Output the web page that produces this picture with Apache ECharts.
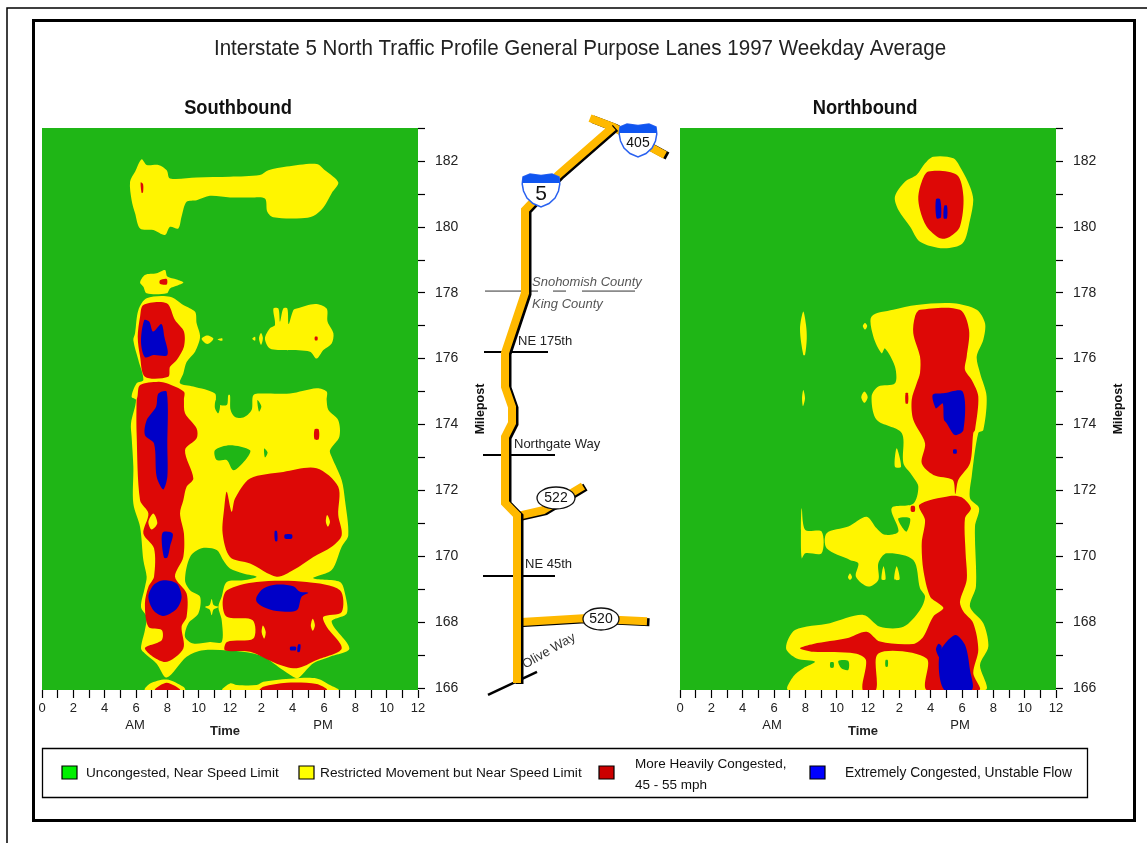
<!DOCTYPE html>
<html><head><meta charset="utf-8">
<style>html,body{margin:0;padding:0;background:#fff}#c{width:1147px;height:843px}</style>
<script src="https://cdn.jsdelivr.net/npm/echarts@6/dist/echarts.min.js"></script>
</head><body><div id="c"></div>
<script>
// Contours: each polygon is a list of [hour of day (0-24), milepost]
const sbYellow = [
 [[6.36,182.05],[6.68,181.88],[7.43,181.88],[7.96,181.72],[8.17,181.47],[9.87,181.5],[12,181.52],[13.91,181.57],[14.45,181.72],[15.62,181.83],[17.53,181.91],[18.06,181.72],[18.91,181.35],[18.49,181.02],[17.96,180.59],[17.32,180.33],[16.57,180.26],[14.77,180.29],[14.38,180.46],[14.23,180.86],[13.28,180.89],[12,180.89],[10.72,180.94],[9.87,180.81],[9.23,180.76],[8.91,180.31],[8.7,179.95],[8.17,180],[7.85,179.75],[7.11,179.9],[6.26,179.95],[5.94,180.41],[5.72,180.81],[5.62,181.37],[5.94,181.67]],
 [[7.85,178.69],[8,178.49],[8.6,178.4],[9.02,178.31],[8.6,178.21],[8.17,178.13],[7.96,177.98],[6.68,177.98],[6.47,178.18],[6.26,178.31],[6.57,178.54],[7.32,178.59]],
 [[6.68,177.83],[8.17,177.88],[9.02,177.63],[9.77,177.42],[9.87,177.07],[10.09,176.66],[9.77,176.21],[9.23,175.9],[9.02,175.55],[8.81,175.25],[9.66,175.15],[11.04,174.94],[11.15,174.64],[11.79,174.59],[11.89,174.89],[12,174.89],[12.04,174.44],[12.32,174.23],[12.85,174.21],[13.38,174.44],[13.49,174.89],[14.13,174.94],[15.83,174.94],[17.53,175.1],[18.17,175],[18.17,174.74],[18.28,174.44],[18.91,174.13],[18.98,173.63],[18.38,173.22],[18.49,173.02],[19.13,172.31],[19.34,171.7],[19.55,170.64],[19.13,170.29],[18.49,169.58],[17.32,169.33],[19.02,169.22],[19.34,168.87],[19.45,168.26],[18.49,168.01],[19.62,167.2],[18.38,166.95],[17.32,166.75],[16.47,166.34],[16.26,166.29],[15.4,166.54],[14.13,166.95],[12.85,167.1],[10.3,167.15],[9.23,166.95],[7.96,166.32],[7.32,166.74],[6.57,167.05],[6.32,167.2],[6.57,167.76],[6.68,168.16],[6.32,168.46],[6.57,169.07],[6.68,169.38],[6.47,169.88],[6.26,170.89],[5.83,171.6],[5.83,172.72],[5.72,173.63],[5.68,174.03],[6,174.74],[5.72,174.84],[6.04,175.25],[6.47,175.35],[6.15,175.96],[5.83,176.56],[5.94,176.77],[6.15,177.47]],
 [[6.57,165.94],[6.9,166.14],[7.96,166.26],[9.02,166.04],[9.13,165.94]],
 [[11.53,165.94],[12,166.14],[12.43,166.09],[13.7,166.09],[14.13,166.19],[16.04,166.29],[17.53,166.29],[18.38,166.09],[18.91,165.94]],
 [[10.19,176.6],[10.55,176.7],[10.94,176.6],[10.55,176.44]],
 [[11.2,176.58],[11.5,176.62],[11.5,176.54]],
 [[13.42,176.6],[13.6,176.66],[13.6,176.54]],
 [[13.85,176.62],[13.98,176.78],[14.1,176.62],[13.98,176.42]],
 [[14.77,177.52],[15.09,177.52],[15.19,177.12],[15.4,177.52],[15.66,177.52],[15.74,177.05],[16.04,177.47],[16.26,177.52],[17.43,177.66],[18.17,177.52],[18.23,177.12],[18.6,176.77],[18.49,176.46],[17.96,176.26],[17.53,176],[17.11,176.21],[15.62,176.26],[14.55,176.31],[14.23,176.61],[14.55,176.92],[14.87,177.02]]
];
const sbGreen = [
 [[10.19,170.24],[11.15,170.19],[11.57,169.88],[12,169.63],[12.85,169.48],[13.7,169.38],[12.85,169.27],[11.79,169.22],[11.47,168.77],[11.26,168.46],[11.47,168.06],[11.47,167.4],[10.72,167.4],[9.66,167.35],[9.13,167.55],[9.34,167.96],[9.98,168.26],[10.09,168.77],[9.45,168.97],[9.13,169.27],[9.45,169.98]],
 [[11.04,173.22],[12,173.37],[13.28,173.22],[13.06,172.97],[12.22,172.61],[11.79,172.92],[11.15,172.92]],
 [[11.1,174.74],[11.36,174.6],[11.25,174.34],[11.04,174.5]],
 [[13.75,174.74],[14,174.55],[13.85,174.39]],
 [[14.18,173.27],[14.4,173.15],[14.23,173.0]]
];
const sbYellowIslands = [
 [[10.83,168.7],[10.95,168.52],[11.26,168.46],[10.95,168.38],[10.83,168.21],[10.7,168.38],[10.41,168.46],[10.7,168.52]]
];
const sbRed = [
 [[6.3,181.35],[6.45,181.3],[6.45,181.05],[6.36,181.03]],
 [[7.53,178.38],[7.96,178.42],[7.96,178.25],[7.53,178.27]],
 [[17.42,176.66],[17.58,176.66],[17.58,176.56],[17.42,176.56]],
 [[17.4,173.85],[17.66,173.85],[17.66,173.55],[17.4,173.55]],
 [[6.47,177.63],[7.96,177.68],[8.49,177.17],[9.06,176.82],[9.06,176.36],[8.6,175.96],[8.17,175.75],[8.06,175.45],[6.57,175.45],[6.26,176.06],[6.11,176.66],[6.26,177.27]],
 [[6.26,175.2],[7.43,175.3],[7.96,175.25],[9.06,174.99],[9.06,174.74],[9.13,174.34],[9.87,173.88],[9.87,173.58],[9.13,173.22],[9.66,172.36],[9.23,172.11],[9.02,171.7],[8.81,171.3],[9.06,170.69],[9.02,169.98],[8.49,169.38],[9.23,168.87],[9.23,168.16],[8.91,167.86],[9.02,167.2],[7.85,166.79],[6.57,167.2],[7.64,167.45],[7.64,167.76],[6.79,167.86],[6.57,168.57],[6.79,169.07],[7.15,169.38],[7.15,170.24],[6.47,170.69],[6.79,171.3],[6.26,171.7],[6.04,173.73],[6.04,174.74],[6.09,174.84]],
 [[11.79,171.96],[12.11,171.35],[12.32,171.75],[13.28,172.36],[15.4,172.56],[17.53,172.67],[18.91,172.11],[18.91,171.25],[19.13,170.64],[18.49,170.29],[17.32,169.98],[16.04,169.58],[14.98,169.38],[13.28,169.78],[12,169.98],[11.53,170.69],[11.64,171.5]],
 [[11.81,168.97],[13.7,169.22],[16.89,169.22],[19.02,168.97],[19.13,168.31],[17.96,168.16],[18.17,167.86],[19.13,167.2],[17.53,166.85],[16.26,166.6],[14.98,166.74],[13.28,167.1],[11.68,167.15],[11.81,167.4],[13.49,167.5],[13.45,168.06],[11.79,168.16],[11.53,168.57]],
 [[7.21,165.94],[7.96,166.16],[8.81,165.94]],
 [[13.91,165.94],[14.13,166.04],[15.62,166.16],[17.53,166.12],[18.17,165.94]]
];
const sbRedHoles = [
 [[7.11,171.3],[7.36,171],[7,170.81],[6.79,171.05]],
 [[18.2,171.25],[18.38,171.05],[18.25,170.9],[18.12,171.05]],
 [[14.1,167.9],[14.28,167.7],[14.18,167.5],[14.02,167.7]],
 [[17.28,168.1],[17.42,167.9],[17.28,167.74],[17.16,167.9]]
];
const sbBlue = [
 [[6.53,177.17],[6.85,177.12],[7.09,176.82],[7.62,177.05],[7.81,176.66],[8,176.11],[7.11,176.11],[6.57,176.04],[6.32,176.51]],
 [[7.43,174.94],[7.96,174.99],[8,173.32],[8,172.41],[7.74,172.03],[7.32,172.41],[7.15,173.42],[6.57,173.68],[6.68,174.13],[7.28,174.54]],
 [[7.74,170.74],[8.34,170.69],[8.17,170.29],[8,169.96],[7.79,169.96],[7.64,170.49]],
 [[7.74,169.27],[8.6,169.17],[8.91,168.77],[8.6,168.41],[7.74,168.19],[7.11,168.36],[6.79,168.77],[7.11,169.12]],
 [[13.7,168.77],[14.13,169.02],[14.98,169.14],[16.04,169.09],[16.47,168.92],[17,168.89],[16.57,168.77],[16.26,168.36],[14.98,168.34],[14.13,168.46],[13.7,168.62]],
 [[14.85,170.76],[15,170.76],[15.02,170.46],[14.88,170.46]],
 [[15.5,170.66],[15.95,170.66],[15.95,170.54],[15.5,170.54]],
 [[15.85,167.25],[16.2,167.25],[16.2,167.15],[15.85,167.15]],
 [[16.35,167.32],[16.5,167.32],[16.45,167.1],[16.3,167.1]]
];

const nbYellow = [
 [[16.17,182.13],[17.45,182.08],[17.98,181.73],[18.51,181.22],[18.72,180.82],[18.51,180.21],[18.04,179.5],[16.81,179.35],[15.32,179.55],[14.68,180.01],[13.94,180.51],[13.72,180.92],[14.36,181.37],[15.11,181.58],[15.64,181.93]],
 [[7.87,177.43],[8.05,177],[8.09,176.6],[7.98,176.11],[7.87,176.11],[7.66,176.9]],
 [[7.87,175.05],[7.98,174.8],[7.85,174.56],[7.79,174.8]],
 [[11.81,177.08],[11.95,176.99],[11.81,176.88],[11.67,176.99]],
 [[11.77,175],[11.98,174.83],[11.77,174.66],[11.57,174.83]],
 [[7.77,171.46],[8,170.8],[9.04,170.75],[9.04,170.09],[8,170.09],[7.77,169.94],[7.72,170.8]],
 [[15.11,177.63],[17.45,177.68],[18.94,177.48],[19.47,177.07],[19.36,176.57],[18.94,176.06],[19.15,175.56],[19.57,174.85],[19.36,173.83],[19.04,173.74],[18.62,172.42],[18.51,171.76],[19.09,171.46],[18.83,170.9],[18.89,169.08],[18.51,168.47],[19.36,167.97],[19.68,167.26],[19.15,166.7],[19.47,165.94],[6.91,165.94],[7.23,166.35],[7.87,166.6],[8.62,166.8],[7.45,166.9],[6.77,167.21],[7.34,167.76],[9.57,167.97],[11.7,168.22],[12.77,167.86],[14.26,167.86],[15.32,168.37],[15.64,168.78],[15.32,169.03],[14.89,169.89],[13.19,170.09],[12.66,169.79],[12.66,169.28],[12.02,169.08],[11.23,169.38],[11.38,169.79],[10.85,169.89],[9.36,170.24],[9.36,170.7],[10.74,170.9],[11.91,171.2],[12.55,170.85],[13.09,170.65],[13.94,170.75],[13.51,171.46],[14.89,171.59],[15.21,172.12],[14.79,172.47],[14.26,172.82],[14.15,173.74],[12.55,174.14],[12.23,174.85],[12.66,175.15],[13.72,175.25],[13.72,175.76],[13.09,176.31],[12.87,176.16],[12.34,176.67],[12.23,177.28],[13.6,177.48]],
 [[13.83,173.28],[14.11,172.72],[13.72,172.72]],
 [[13.83,169.7],[14.02,169.3],[13.68,169.3]],
 [[10.85,169.48],[10.98,169.36],[10.85,169.28],[10.72,169.36]],
 [[12.99,169.7],[13.12,169.3],[12.86,169.3]]
];
const nbGreen = [
 [[13.94,171.15],[14.68,171.15],[14.47,170.75],[14.15,170.9]],
 [[10.11,166.82],[10.74,166.82],[10.74,166.55],[10.3,166.6]],
 [[9.6,166.78],[9.8,166.78],[9.8,166.62],[9.6,166.62]],
 [[13.12,166.85],[13.26,166.85],[13.26,166.65],[13.12,166.65]]
];
const nbRed = [
 [[15.85,181.68],[17.66,181.58],[18.09,180.92],[17.87,180.01],[17.23,179.7],[16.6,179.65],[15.74,180.01],[15.32,180.51],[15.21,180.92],[15.43,181.37]],
 [[15.32,177.48],[17.87,177.48],[18.45,176.87],[18.3,176.06],[18.19,175.66],[18.62,175.35],[19.04,174.85],[18.83,173.83],[18.72,173.74],[18.51,172.82],[17.77,172.32],[17.57,171.89],[17.4,172.32],[16.17,172.47],[15.43,172.82],[15.64,173.43],[14.89,174.14],[14.79,174.75],[15.11,175.25],[15.32,175.56],[15.32,176.06],[14.89,176.77],[15,177.28]],
 [[15.28,171.56],[17.23,171.83],[17.98,171.79],[18.57,171.46],[18.19,171.15],[18.23,170.09],[18.3,169.28],[17.87,168.62],[18.09,168.32],[18.72,167.97],[19.04,167.16],[18.72,166.45],[19.11,165.94],[15.74,165.94],[15.74,166.9],[12.66,167.05],[12.51,165.94],[11.66,165.94],[11.87,166.85],[11.17,167.05],[8.51,167.1],[7.66,167.21],[8.51,167.34],[10.64,167.51],[11.91,167.71],[12.77,167.41],[14.89,167.34],[15.53,167.56],[16.17,168.17],[16.81,168.42],[16.49,168.57],[15.96,168.78],[15.53,169.59],[15.43,170.4],[15.64,171.1]],
 [[14.4,174.95],[14.55,174.95],[14.55,174.64],[14.4,174.64]],
 [[14.75,171.52],[14.98,171.52],[14.98,171.36],[14.75,171.36]]
];
const nbBlue = [
 [[16.34,180.84],[16.6,180.84],[16.66,180.29],[16.38,180.26]],
 [[16.87,180.64],[17.04,180.64],[17.04,180.26],[16.83,180.26]],
 [[16.13,174.9],[16.81,174.95],[18.04,175],[18.09,173.83],[17.55,173.68],[17.02,174.04],[16.85,174.14],[16.77,174.64],[16.49,174.54],[16.32,174.49]],
 [[17.45,173.24],[17.65,173.24],[17.65,173.12],[17.45,173.12]],
 [[16.57,167.05],[17.55,167.61],[18.19,167.31],[18.51,166.55],[18.62,165.94],[16.87,165.94]],
 [[16.34,167.16],[16.49,167.34],[16.7,167.26],[16.6,166.9]]
];

// Hand-drawn route map, along the same milepost scale (x = eastward offset)
const i5Route = [[173,183.03],[118,181.57],[85,180.51],[85,177.99],[65,176.17],[65,175.14],[72,174.53],[72,174.04],[65,173.62],[65,171.62],[77,171.25],[77,166.15]];
const sr522 = [[77,171.22],[103,171.4],[143,172.13]];
const sr520 = [[77,168],[143,168.12],[207,168.03]];
const i405 = [[150,183.3],[173,183.03],[225,182.18]];
const countyLine = [[45,178.05],[98,178.05],'-',[113,178.05],[126,178.05],'-',[142,178.05],[195,178.05]];
const ne175 = [[44,176.2],[108,176.2]];
const northgate = [[43,173.07],[115,173.07]];
const ne45 = [[43,169.4],[115,169.4]];
const oliveWay = [[48,165.79],[97,166.49]];

const xTickLabels = ['0','2','4','6','8','10','12','2','4','6','8','10','12'];
const yTicks = [166,167,168,169,170,171,172,173,174,175,176,177,178,179,180,181,182,183];
const yLabels = [166,168,170,172,174,176,178,180,182];
const legendItems = ['Uncongested, Near Speed Limit','Restricted Movement but Near Speed Limit','More Heavily Congested,\n45 - 55 mph','Extremely Congested, Unstable Flow'];

const GREEN='#1FB616', YELLOW='#FFF500', RED='#DD0806', BLUE='#0000C8', ROAD='#FFB900';
const FONT='"Liberation Sans", Arial, sans-serif';

function polySeries(name, idx, color, polys){
  return {type:'custom', name, xAxisIndex:idx, yAxisIndex:idx, clip:true, silent:true,
    data:polys.map(p=>p[0]), encode:{x:0,y:1},
    renderItem(params, api){
      return {type:'polygon', shape:{points:polys[params.dataIndex].map(q=>api.coord(q)), smooth:0.3}, style:{fill:color}};
    }};
}
function road(name, data, order){
  return {type:'line', name, xAxisIndex:2, yAxisIndex:2, data, symbol:'none', silent:true, clip:false, z:3+order,
    lineStyle:{color:ROAD, width:8, cap:'butt', join:'miter', shadowColor:'#000', shadowBlur:0, shadowOffsetX:2.5, shadowOffsetY:1}};
}
function xline(name, data, w, color){
  return {type:'line', name, xAxisIndex:2, yAxisIndex:2, data, symbol:'none', silent:true, clip:false, z:2, connectNulls:false,
    lineStyle:{color:color||'#000', width:w, cap:'butt'}};
}
function timeAxis(gridIndex){
  return {type:'value', gridIndex, min:0, max:24, interval:1, name:'Time', nameLocation:'middle', nameGap:35,
    nameTextStyle:{fontFamily:FONT, fontWeight:'bold', fontSize:13, color:'#222', padding:[0,10,0,0]},
    axisLine:{show:false, onZero:false}, splitLine:{show:false},
    axisTick:{show:true, length:8, lineStyle:{color:'#000', width:1.2}},
    axisLabel:{show:true, fontFamily:FONT, fontSize:13, color:'#222', margin:12, showMinLabel:true, showMaxLabel:true,
      formatter:v=>v%2===0?xTickLabels[v/2]:''}};
}
function mileAxis(gridIndex){
  return {type:'value', gridIndex, position:'right', min:165.94, max:183, name:'Milepost', nameLocation:'middle', nameGap:56, nameRotate:90,
    nameTextStyle:{fontFamily:FONT, fontWeight:'bold', fontSize:12.5, color:'#111'},
    axisLine:{show:false, onZero:false}, splitLine:{show:false},
    axisTick:{show:true, length:7, customValues:yTicks, lineStyle:{color:'#000', width:1.2}},
    axisLabel:{show:true, fontFamily:FONT, fontSize:14, color:'#222', margin:17, customValues:yLabels}};
}
function txt(x,y,text,o,scaleX){
  return {type:'text', x, y, z:20, scaleX:scaleX||1, style:Object.assign({text, fill:'#222', font:'13px '+FONT, textVerticalAlign:'middle'}, o||{})};
}
const shieldBody=[[-18,-12],[-11,-15],[0,-13.5],[11,-15],[18,-12],[18.8,-5],[17.5,2],[14,9],[8,14.5],[0,18],[-8,14.5],[-14,9],[-17.5,2],[-18.8,-5]];
const shieldTop=[[-18,-12],[-11,-15],[0,-13.5],[11,-15],[18,-12],[18.8,-6],[-18.8,-6]];
function shield(x,y){
  return [
   {type:'polygon', x, y, z:12, shape:{points:shieldBody}, style:{fill:'#fff', stroke:'#2A62F0', lineWidth:1.5}},
   {type:'polygon', x, y, z:13, shape:{points:shieldTop}, style:{fill:'#0F55F0'}}
  ];
}
function oval(cx,cy,rx,ry){
  return {type:'ellipse', z:12, shape:{cx,cy,rx,ry}, style:{fill:'#fff', stroke:'#111', lineWidth:1.3}};
}
function swatch(x,color){
  return {type:'rect', z:20, shape:{x,y:766,width:15,height:13}, style:{fill:color, stroke:'#000', lineWidth:1.2}};
}
const graphic = [
  {type:'rect', z:0, shape:{x:7,y:8,width:1300,height:1000}, style:{fill:'none', stroke:'#000', lineWidth:1.5}},
  {type:'rect', z:0, shape:{x:33.5,y:20.5,width:1101,height:800}, style:{fill:'none', stroke:'#000', lineWidth:3}},
  {type:'rect', z:0, shape:{x:42.5,y:748.5,width:1045,height:49}, style:{fill:'none', stroke:'#000', lineWidth:1.3}},
  txt(580,49,'Interstate 5 North Traffic Profile General Purpose Lanes 1997 Weekday Average',{font:'22px '+FONT, fill:'#222', textAlign:'center'},0.935),
  txt(238,108,'Southbound',{font:'bold 20px '+FONT, fill:'#111', textAlign:'center'},0.915),
  txt(865,108,'Northbound',{font:'bold 20px '+FONT, fill:'#111', textAlign:'center'},0.915),
  txt(135,725,'AM',{textAlign:'center'}), txt(323,725,'PM',{textAlign:'center'}),
  txt(772,725,'AM',{textAlign:'center'}), txt(960,725,'PM',{textAlign:'center'}),
  ...shield(541,189), ...shield(638,139),
  txt(541,194,'5',{font:'21px '+FONT, fill:'#111', textAlign:'center'}),
  txt(638,143,'405',{font:'14px '+FONT, fill:'#111', textAlign:'center'}),
  oval(556,498,19,11), oval(601,619,18,11),
  txt(556,498,'522',{font:'14px '+FONT, fill:'#111', textAlign:'center'}),
  txt(601,619,'520',{font:'14px '+FONT, fill:'#111', textAlign:'center'}),
  txt(532,282,'Snohomish County',{font:'italic 13px '+FONT, fill:'#555'}),
  txt(532,304,'King County',{font:'italic 13px '+FONT, fill:'#555'}),
  txt(518,341,'NE 175th',{font:'13px '+FONT, fill:'#222'}),
  txt(514,444,'Northgate Way',{font:'13px '+FONT, fill:'#222'}),
  txt(525,564,'NE 45th',{font:'13px '+FONT, fill:'#222'}),
  {type:'text', x:549, y:651, rotation:0.52, z:20, style:{text:'Olive Way', font:'13px '+FONT, fill:'#333', textAlign:'center', textVerticalAlign:'middle'}},
  swatch(62,'#00F000'), swatch(299,'#FFFF00'), swatch(599,'#CC0000'), swatch(810,'#0000FF'),
  txt(86,773,legendItems[0],{font:'13.6px '+FONT, fill:'#111'}),
  txt(320,773,legendItems[1],{font:'13.7px '+FONT, fill:'#111'}),
  txt(635,775,legendItems[2],{font:'13.5px '+FONT, fill:'#111', lineHeight:21}),
  txt(845,773,legendItems[3],{font:'13.8px '+FONT, fill:'#111'})
];

const chart = echarts.init(document.getElementById('c'), null, {renderer:'canvas'});
chart.setOption({
  animation:false, backgroundColor:'#fff',
  grid:[
    {left:42, top:128, width:376, height:562, show:true, backgroundColor:GREEN, borderWidth:0},
    {left:680, top:128, width:376, height:562, show:true, backgroundColor:GREEN, borderWidth:0},
    {left:440, top:128, width:240, height:562, show:false}
  ],
  xAxis:[timeAxis(0), timeAxis(1), {type:'value', gridIndex:2, min:0, max:240, show:false}],
  yAxis:[mileAxis(0), mileAxis(1), {type:'value', gridIndex:2, min:165.94, max:183, show:false}],
  graphic,
  series:[
    polySeries('SB restricted',0,YELLOW,sbYellow),
    polySeries('SB uncongested pockets',0,GREEN,sbGreen),
    polySeries('SB restricted islands',0,YELLOW,sbYellowIslands),
    polySeries('SB congested',0,RED,sbRed),
    polySeries('SB restricted pockets',0,YELLOW,sbRedHoles),
    polySeries('SB unstable',0,BLUE,sbBlue),
    polySeries('NB restricted',1,YELLOW,nbYellow),
    polySeries('NB uncongested pockets',1,GREEN,nbGreen),
    polySeries('NB congested',1,RED,nbRed),
    polySeries('NB unstable',1,BLUE,nbBlue),
    xline('County line',countyLine,1,'#333'),
    xline('NE 175th',ne175,2),
    xline('Northgate Way',northgate,2),
    xline('NE 45th',ne45,2),
    xline('Olive Way',oliveWay,2.5),
    road('SR 522',sr522,0), road('SR 520',sr520,0), road('I-405',i405,0), road('I-5',i5Route,1)
  ]
});
</script></body></html>
